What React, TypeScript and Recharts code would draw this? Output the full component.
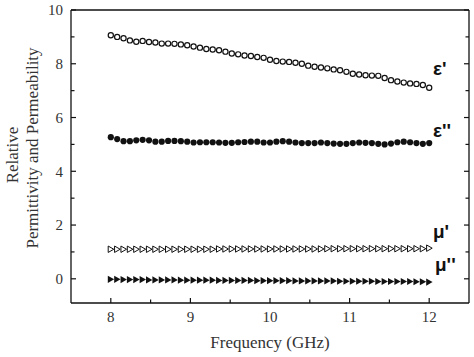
import React from 'react';
import { ScatterChart, Scatter, XAxis, YAxis, Customized } from 'recharts';

const frequency = [8.00, 8.08, 8.16, 8.24, 8.32, 8.40, 8.48, 8.56, 8.64, 8.72, 8.80, 8.88, 8.96, 9.04, 9.12, 9.20, 9.28, 9.36, 9.44, 9.52, 9.60, 9.68, 9.76, 9.84, 9.92, 10.00, 10.08, 10.16, 10.24, 10.32, 10.40, 10.48, 10.56, 10.64, 10.72, 10.80, 10.88, 10.96, 11.04, 11.12, 11.20, 11.28, 11.36, 11.44, 11.52, 11.60, 11.68, 11.76, 11.84, 11.92, 12.00];

const epsReal = [9.06, 9.00, 8.95, 8.87, 8.82, 8.85, 8.81, 8.79, 8.75, 8.75, 8.74, 8.72, 8.69, 8.64, 8.60, 8.55, 8.53, 8.50, 8.45, 8.38, 8.35, 8.31, 8.29, 8.25, 8.22, 8.15, 8.10, 8.08, 8.07, 8.04, 8.00, 7.93, 7.89, 7.86, 7.83, 7.79, 7.76, 7.70, 7.63, 7.60, 7.57, 7.56, 7.55, 7.47, 7.39, 7.34, 7.30, 7.27, 7.25, 7.21, 7.11];

const epsImag = [5.27, 5.20, 5.12, 5.12, 5.15, 5.17, 5.15, 5.10, 5.10, 5.13, 5.13, 5.12, 5.10, 5.07, 5.08, 5.08, 5.08, 5.07, 5.06, 5.06, 5.08, 5.09, 5.10, 5.10, 5.07, 5.07, 5.10, 5.12, 5.10, 5.07, 5.05, 5.05, 5.05, 5.07, 5.05, 5.03, 5.02, 5.02, 5.05, 5.07, 5.06, 5.05, 5.02, 5.00, 5.03, 5.08, 5.10, 5.08, 5.05, 5.02, 5.05];

const muReal = [1.10, 1.10, 1.10, 1.10, 1.10, 1.10, 1.10, 1.10, 1.10, 1.10, 1.10, 1.10, 1.10, 1.10, 1.10, 1.10, 1.10, 1.11, 1.11, 1.11, 1.11, 1.11, 1.11, 1.11, 1.11, 1.11, 1.11, 1.11, 1.11, 1.11, 1.11, 1.11, 1.11, 1.11, 1.12, 1.12, 1.12, 1.12, 1.12, 1.12, 1.12, 1.12, 1.12, 1.12, 1.12, 1.12, 1.12, 1.12, 1.12, 1.12, 1.14];

const muImag = [-0.02, -0.02, -0.03, -0.03, -0.03, -0.03, -0.04, -0.04, -0.04, -0.04, -0.04, -0.05, -0.05, -0.05, -0.05, -0.05, -0.05, -0.06, -0.06, -0.06, -0.06, -0.06, -0.06, -0.07, -0.07, -0.07, -0.07, -0.07, -0.07, -0.08, -0.08, -0.08, -0.08, -0.08, -0.08, -0.08, -0.09, -0.09, -0.09, -0.09, -0.09, -0.09, -0.10, -0.10, -0.10, -0.10, -0.10, -0.10, -0.11, -0.11, -0.12];

const xTicks = [8, 8.5, 9, 9.5, 10, 10.5, 11, 11.5, 12];
const xTickLabels = ['8', '9', '10', '11', '12'];
const yTicks = [0, 1, 2, 3, 4, 5, 6, 7, 8, 9, 10];
const yTickLabels = ['0', '2', '4', '6', '8', '10'];
const seriesLabels = ["ε'", "ε''", "μ'", "μ''"];
const xAxisTitle = 'Frequency (GHz)';
const yAxisTitle = ['Relative', 'Permittivity and Permeability'];

const INK = '#111';
const serifStyle = { fontFamily: "'Liberation Serif', 'Times New Roman', Times, serif" };
const sansStyle = { fontFamily: "'Liberation Sans', Arial, Helvetica, sans-serif", fontWeight: 700 };

const toPoints = (ys: number[]) => frequency.map((f, i) => ({ x: f, y: ys[i] }));

const OpenCircle = (p: any) => (
  <circle cx={p.cx} cy={p.cy} r={2.6} fill="#fff" stroke={INK} strokeWidth={1.2} />
);
const FilledCircle = (p: any) => <circle cx={p.cx} cy={p.cy} r={3.1} fill={INK} />;
const OpenTri = (p: any) => (
  <polygon
    points={`${p.cx - 2.6},${p.cy - 3.2} ${p.cx + 3},${p.cy} ${p.cx - 2.6},${p.cy + 3.2}`}
    fill="#fff"
    stroke={INK}
    strokeWidth={1}
  />
);
const FilledTri = (p: any) => (
  <polygon
    points={`${p.cx - 3},${p.cy - 3.6} ${p.cx + 3.4},${p.cy} ${p.cx - 3},${p.cy + 3.6}`}
    fill={INK}
  />
);

const isMajorX = (v: number) => xTickLabels.includes(String(v));
const isMajorY = (v: number) => yTickLabels.includes(String(v));

const BottomTick = (p: any) => {
  const v = p.payload.value;
  const major = isMajorX(v);
  return (
    <g>
      <line x1={p.x} x2={p.x} y1={p.y} y2={p.y - (major ? 5 : 3.5)} stroke={INK} strokeWidth={1.2} />
      {major && (
        <text x={p.x} y={p.y + 19} textAnchor="middle" style={serifStyle} fontSize={15} fill="#333">
          {String(v)}
        </text>
      )}
    </g>
  );
};
const TopTick = (p: any) => {
  const major = isMajorX(p.payload.value);
  return <line x1={p.x} x2={p.x} y1={p.y} y2={p.y + (major ? 5 : 3.5)} stroke={INK} strokeWidth={1.2} />;
};
const LeftTick = (p: any) => {
  const v = p.payload.value;
  const major = isMajorY(v);
  return (
    <g>
      <line x1={p.x} x2={p.x + (major ? 5 : 3.5)} y1={p.y} y2={p.y} stroke={INK} strokeWidth={1.2} />
      {major && (
        <text x={p.x - 8} y={p.y} dy="0.35em" textAnchor="end" style={serifStyle} fontSize={15} fill="#333">
          {String(v)}
        </text>
      )}
    </g>
  );
};
const RightTick = (p: any) => {
  const major = isMajorY(p.payload.value);
  return <line x1={p.x} x2={p.x - (major ? 5 : 3.5)} y1={p.y} y2={p.y} stroke={INK} strokeWidth={1.2} />;
};

const Annotations = () => (
  <g>
    <text x={270} y={348} textAnchor="middle" style={serifStyle} fontSize={17} fill="#333">
      {xAxisTitle}
    </text>
    <text x={18} y={155} transform="rotate(-90 18 155)" textAnchor="middle" style={serifStyle} fontSize={17} fill="#333">
      {yAxisTitle[0]}
    </text>
    <text x={38} y={148} transform="rotate(-90 38 148)" textAnchor="middle" style={serifStyle} fontSize={17} fill="#333">
      {yAxisTitle[1]}
    </text>
    <text x={433} y={75} style={sansStyle} fontSize={19} fill={INK}>{seriesLabels[0]}</text>
    <text x={433} y={137} style={sansStyle} fontSize={19} fill={INK}>{seriesLabels[1]}</text>
    <text x={433} y={238} style={sansStyle} fontSize={19} fill={INK}>{seriesLabels[2]}</text>
    <text x={435} y={271} style={sansStyle} fontSize={19} fill={INK}>{seriesLabels[3]}</text>
  </g>
);

export default function App() {
  return (
    <div style={{ position: 'absolute', left: 0, top: 0, background: '#fff' }}>
      <ScatterChart width={474} height={357} margin={{ top: 5, right: 0, bottom: 0, left: 0 }}>
        <XAxis
          dataKey="x"
          type="number"
          domain={[7.5, 12.5]}
          ticks={xTicks}
          interval={0}
          height={54}
          tickLine={false}
          tickSize={0}
          tickMargin={0}
          axisLine={{ stroke: INK, strokeWidth: 1.3 }}
          tick={<BottomTick />}
          allowDataOverflow
        />
        <XAxis
          xAxisId="top"
          orientation="top"
          type="number"
          domain={[7.5, 12.5]}
          ticks={xTicks}
          interval={0}
          height={5}
          tickLine={false}
          tickSize={0}
          tickMargin={0}
          axisLine={{ stroke: INK, strokeWidth: 1.3 }}
          tick={<TopTick />}
          allowDataOverflow
        />
        <YAxis
          dataKey="y"
          type="number"
          domain={[-0.9, 10]}
          ticks={yTicks}
          interval={0}
          width={71}
          tickLine={false}
          tickSize={0}
          tickMargin={0}
          axisLine={{ stroke: INK, strokeWidth: 1.3 }}
          tick={<LeftTick />}
          allowDataOverflow
        />
        <YAxis
          yAxisId="right"
          orientation="right"
          type="number"
          domain={[-0.9, 10]}
          ticks={yTicks}
          interval={0}
          width={5}
          tickLine={false}
          tickSize={0}
          tickMargin={0}
          axisLine={{ stroke: INK, strokeWidth: 1.3 }}
          tick={<RightTick />}
          allowDataOverflow
        />
        <Scatter data={toPoints(epsReal)} shape={<OpenCircle />} isAnimationActive={false} />
        <Scatter data={toPoints(epsImag)} shape={<FilledCircle />} isAnimationActive={false} />
        <Scatter data={toPoints(muReal)} shape={<OpenTri />} isAnimationActive={false} />
        <Scatter data={toPoints(muImag)} shape={<FilledTri />} isAnimationActive={false} />
        <Customized component={<Annotations />} />
      </ScatterChart>
    </div>
  );
}
